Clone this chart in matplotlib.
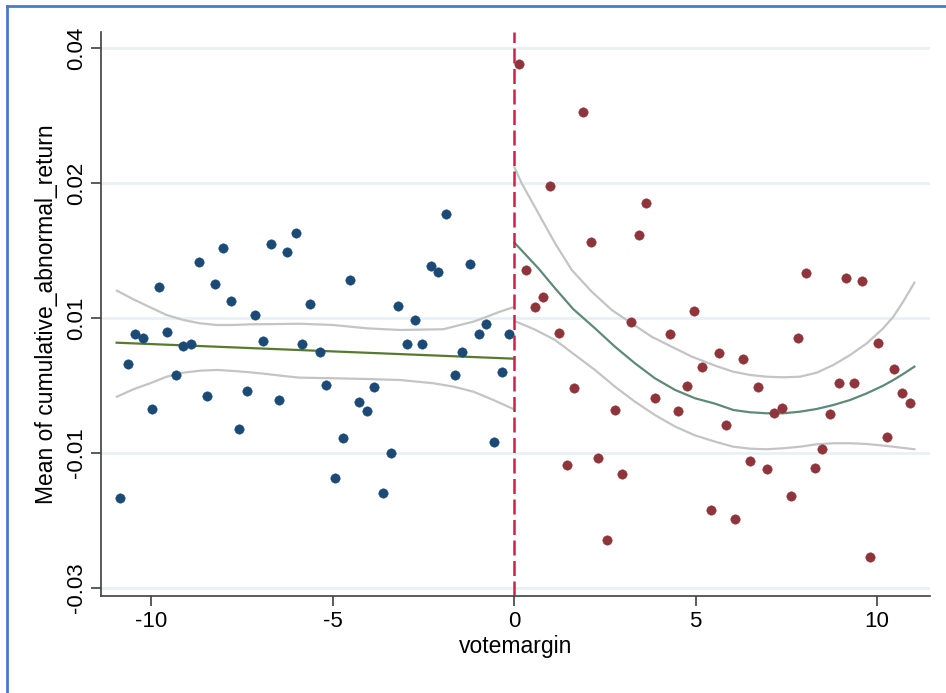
import matplotlib
matplotlib.use("Agg")
import matplotlib.pyplot as plt
from matplotlib.lines import Line2D

plt.rcParams['font.family'] = ['Liberation Sans', 'DejaVu Sans']

# ---- binned means, left of cutoff ----
left_x = [-10.87, -10.64, -10.44, -10.21, -9.98, -9.79, -9.56, -9.32, -9.13, -8.90,
          -8.67, -8.47, -8.24, -8.01, -7.80, -7.58, -7.35, -7.15, -6.92, -6.69,
          -6.48, -6.25, -6.02, -5.83, -5.62, -5.36, -5.17, -4.94, -4.71, -4.51,
          -4.28, -4.05, -3.85, -3.62, -3.39, -3.20, -2.96, -2.73, -2.53, -2.29,
          -2.10, -1.87, -1.64, -1.44, -1.21, -0.97, -0.78, -0.54, -0.33, -0.13]
left_y = [-0.02671, -0.00681, -0.00241, -0.00292, -0.01344, 0.00464, -0.00203, -0.00844, -0.00410, -0.00385,
          0.00825, -0.01160, 0.00504, 0.01033, 0.00256, -0.01640, -0.01077, 0.00040, -0.00345, 0.01092,
          -0.01219, 0.00978, 0.01264, -0.00385, 0.00203, -0.00499, -0.00988, -0.02366, -0.01782, 0.00559,
          -0.01249, -0.01373, -0.01022, -0.02597, -0.01995, 0.00182, -0.00385, -0.00030, -0.00385, 0.00770,
          0.00681, 0.01545, -0.00844, -0.00499, 0.00804, -0.00241, -0.00089, -0.01837, -0.00804, -0.00241]

# ---- binned means, right of cutoff ----
right_x = [0.14, 0.33, 0.57, 0.80, 1.00, 1.23, 1.46, 1.65, 1.89, 2.12,
           2.32, 2.55, 2.77, 2.98, 3.21, 3.44, 3.64, 3.88, 4.29, 4.53,
           4.76, 4.96, 5.19, 5.42, 5.65, 5.84, 6.08, 6.31, 6.50, 6.73,
           6.97, 7.16, 7.39, 7.62, 7.82, 8.05, 8.28, 8.48, 8.71, 8.94,
           9.14, 9.37, 9.60, 9.80, 10.04, 10.27, 10.46, 10.69, 10.92]
right_y = [0.03763, 0.00716, 0.00159, 0.00307, 0.01956, -0.00227, -0.02173, -0.01041, 0.03052, 0.01126,
           -0.02070, -0.03289, -0.01359, -0.02316, -0.00064, 0.01225, 0.01704, -0.01181, -0.00241, -0.01378,
           -0.01007, 0.00108, -0.00726, -0.02849, -0.00523, -0.01590, -0.02982, -0.00612, -0.02119, -0.01022,
           -0.02241, -0.01407, -0.01338, -0.02633, -0.00296, 0.00662, -0.02227, -0.01945, -0.01427, -0.00967,
           0.00593, -0.00967, 0.00553, -0.03536, -0.00366, -0.01767, -0.00751, -0.01111, -0.01255]

# ---- fitted lines and confidence bands ----
lfit_x = [-10.95, 0.0]
lfit_y = [-0.00366, -0.00603]

lci_hi_x = [-10.94, -10.49, -10.03, -9.57, -9.11, -8.65, -8.19, -7.73, -7.27, -6.36,
            -5.90, -4.98, -4.06, -3.14, -1.95, -1.49, -1.12, -0.75, -0.39, -0.02]
lci_hi = [0.00404, 0.00277, 0.00159, 0.00044, -0.00030, -0.00079, -0.00104, -0.00104, -0.00094, -0.00089,
          -0.00085, -0.00104, -0.00153, -0.00178, -0.00167, -0.00104, -0.00055, 0.00019, 0.00093, 0.00159]
lci_lo_x = [-10.94, -10.49, -10.03, -9.57, -9.11, -8.65, -8.19, -7.73, -7.27, -6.81,
            -6.36, -5.90, -4.98, -4.06, -3.14, -2.22, -1.67, -1.12, -0.57, -0.02]
lci_lo = [-0.01166, -0.01057, -0.00968, -0.00870, -0.00810, -0.00781, -0.00770, -0.00785, -0.00805, -0.00830,
          -0.00859, -0.00884, -0.00893, -0.00904, -0.00919, -0.00967, -0.01017, -0.01092, -0.01215, -0.01348]

rfit_x = [0.01, 0.67, 1.13, 1.63, 2.23, 2.78, 3.33, 3.88, 4.44, 4.99, 5.54, 6.04, 6.50, 6.96,
          7.42, 7.88, 8.34, 8.80, 9.26, 9.72, 10.17, 10.45, 10.72, 11.03]
rfit_y = [0.01116, 0.00736, 0.00440, 0.00132, -0.00153, -0.00425, -0.00671, -0.00893, -0.01067, -0.01190,
          -0.01270, -0.01363, -0.01397, -0.01412, -0.01412, -0.01388, -0.01348, -0.01289, -0.01215, -0.01116,
          -0.01003, -0.00919, -0.00830, -0.00721]
rci_hi_x = [0.01, 0.21, 0.67, 1.13, 1.59, 2.14, 2.69, 3.24, 3.79, 4.34, 4.90, 5.56, 6.04, 6.50,
            6.96, 7.42, 7.88, 8.34, 8.80, 9.26, 9.72, 10.17, 10.45, 10.72, 11.03]
rci_hi = [0.02233, 0.01996, 0.01551, 0.01107, 0.00711, 0.00390, 0.00119, -0.00079, -0.00277, -0.00425,
          -0.00573, -0.00710, -0.00796, -0.00844, -0.00870, -0.00879, -0.00870, -0.00810, -0.00696, -0.00548,
          -0.00375, -0.00153, 0.00019, 0.00241, 0.00523]
rci_lo_x = [0.01, 0.58, 1.13, 1.68, 2.23, 2.78, 3.33, 3.88, 4.44, 4.99, 5.56, 6.04, 6.50, 6.96,
            7.42, 7.88, 8.34, 8.80, 9.26, 9.72, 10.27, 11.03]
rci_lo = [-0.00044, -0.00173, -0.00326, -0.00548, -0.00770, -0.01017, -0.01240, -0.01437, -0.01610, -0.01740,
          -0.01836, -0.01907, -0.01936, -0.01945, -0.01930, -0.01907, -0.01871, -0.01856, -0.01856, -0.01867,
          -0.01896, -0.01945]

cutoff = 0
xtick_values = [-10, -5, 0, 5, 10]
xtick_labels = ['-10', '-5', '0', '5', '10']
ytick_values = [0.04, 0.02, 0.0, -0.02, -0.04]
ytick_labels = ['0.04', '0.02', '0.01', '-0.01', '-0.03']

fig = plt.figure(figsize=(9.46, 6.93), dpi=100)
fig.patch.set_facecolor('white')
ax = fig.add_axes([101/946, 1 - 596/693, (930-101)/946, (596-32)/693])

for yv in ytick_values:
    ax.axhline(yv, color='#e9f1f4', lw=2.0, zorder=0)

ci_col = '#c4c4c4'
ax.plot(lci_hi_x, lci_hi, color=ci_col, lw=1.6, zorder=2)
ax.plot(lci_lo_x, lci_lo, color=ci_col, lw=1.6, zorder=2)
ax.plot(rci_hi_x, rci_hi, color=ci_col, lw=1.6, zorder=2)
ax.plot(rci_lo_x, rci_lo, color=ci_col, lw=1.6, zorder=2)
ax.plot(lfit_x, lfit_y, color='#587a2e', lw=1.6, zorder=3)
ax.plot(rfit_x, rfit_y, color='#5e8a78', lw=1.6, zorder=3)

ax.plot(left_x, left_y, 'o', color='#1a4a75', ms=6.8, mec='#1a4a75', mew=0.3, zorder=4)
ax.plot(right_x, right_y, 'o', color='#8f343b', ms=6.8, mec='#8f343b', mew=0.3, zorder=4)

ax.axvline(cutoff, color='#d01f4a', lw=1.8, ls=(0, (6, 2.2)), zorder=5)

ax.set_xlim(-11.38, 11.46)
ax.set_ylim(-0.04119, 0.04237)

for s in ['top', 'right']:
    ax.spines[s].set_visible(False)
for s in ['left', 'bottom']:
    ax.spines[s].set_color('#404040')
    ax.spines[s].set_linewidth(1.2)

ax.set_xticks(xtick_values)
ax.set_xticklabels(xtick_labels)
ax.set_yticks(ytick_values)
ax.set_yticklabels(ytick_labels, rotation=90, va='center')
ax.tick_params(axis='both', length=7, width=1.2, color='#404040', labelsize=16, pad=4)
ax.tick_params(axis='y', pad=3)

ax.set_xlabel('votemargin', fontsize=16.5, labelpad=2)
ax.set_ylabel('Mean of cumulative_abnormal_return', fontsize=16.5, labelpad=6)

# outer frame (screenshot border)
fig.add_artist(Line2D([7/946, 7/946], [0, 1 - 6/693], color='#4a78cf', lw=2, transform=fig.transFigure))
fig.add_artist(Line2D([7/946, 1], [1 - 6/693, 1 - 6/693], color='#4a78cf', lw=2, transform=fig.transFigure))

fig.savefig('out.png', dpi=100)
